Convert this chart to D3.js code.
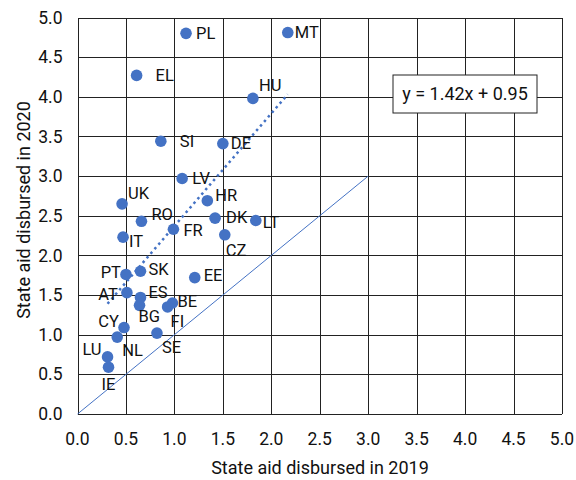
<!DOCTYPE html>
<head>
  <meta charset="utf-8">
  <script src="https://d3js.org/d3.v7.min.js"></script>
  <style>
    body { margin:0; background:#fff; }
    text { font-family: Roboto, sans-serif; fill: #111; }
    .grid-line { stroke: #222; stroke-width: 1; shape-rendering: crispEdges; }
    .tick-label { font-size: 17.5px; }
    .axis-title { font-size: 18px; }
    .pt-label { font-size: 16.5px; }
    .eq-text { font-size: 18px; }
  </style>
</head>
<body>
  <script>
    // member states, state aid disbursed (% of GDP)
    var countries = ["PL","MT","EL","HU","SI","DE","LV","UK","HR","RO","DK","LT","FR","IT","CZ",
                     "PT","SK","EE","AT","ES","BE","BG","FI","CY","NL","SE","LU","IE"];
    var aid2019 = [1.12,2.17,0.61,1.81,0.86,1.50,1.08,0.46,1.34,0.66,1.42,1.84,0.99,0.47,1.52,
                   0.50,0.65,1.21,0.51,0.65,0.98,0.64,0.93,0.48,0.41,0.82,0.31,0.32];
    var aid2020 = [4.80,4.81,4.27,3.98,3.44,3.41,2.97,2.65,2.69,2.43,2.47,2.44,2.33,2.23,2.26,
                   1.76,1.80,1.72,1.53,1.47,1.40,1.37,1.35,1.09,0.97,1.02,0.72,0.59];
    var ticks = [0,0.5,1,1.5,2,2.5,3,3.5,4,4.5,5];
    var slope = 1.42, intercept = 0.95;

    // label placement: [dx, dy, anchor]
    var labelPos = {
      PL:[10,0,"start"], MT:[7,0,"start"], EL:[19,0,"start"], HU:[6,-13,"start"],
      SI:[19,0,"start"], DE:[8,0,"start"], LV:[10,0,"start"], UK:[6,-11,"start"],
      HR:[8,-5,"start"], RO:[10,-7,"start"], DK:[11,-1,"start"], LT:[7,2,"start"],
      FR:[10,1,"start"], IT:[6,4,"start"], CZ:[1,15,"start"], PT:[-5,-2,"end"],
      SK:[8,-2,"start"], EE:[9,-2,"start"], AT:[-9,2,"end"], ES:[8,-5,"start"],
      BE:[5,-2,"start"], BG:[-1,11,"start"], FI:[3,14,"start"], CY:[-5,-6,"end"],
      NL:[5,13,"start"], SE:[5,14,"start"], LU:[-6,-8,"end"], IE:[0,17,"middle"]
    };

    var data = countries.map((c, i) => ({name: c, x: aid2019[i], y: aid2020[i]}));

    var W = 576, H = 480;
    var svg = d3.select("body").append("svg")
      .attr("width", W).attr("height", H);

    var x = d3.scaleLinear().domain([0, 5]).range([77.5, 562]);
    var y = d3.scaleLinear().domain([0, 5]).range([414, 17.5]);
    var blue = "#4472C4";

    // grid
    svg.append("g").selectAll("line")
      .data(ticks).enter().append("line")
        .attr("class", "grid-line")
        .attr("x1", d => Math.round(x(d)) + 0.5).attr("x2", d => Math.round(x(d)) + 0.5)
        .attr("y1", y(5)).attr("y2", y(0));
    svg.append("g").selectAll("line")
      .data(ticks).enter().append("line")
        .attr("class", "grid-line")
        .attr("y1", d => Math.round(y(d)) + 0.5).attr("y2", d => Math.round(y(d)) + 0.5)
        .attr("x1", x(0)).attr("x2", x(5));

    // tick labels
    svg.append("g").selectAll("text")
      .data(ticks).enter().append("text")
        .attr("class", "tick-label")
        .attr("x", d => x(d)).attr("y", y(0) + 25)
        .attr("dy", "0.35em")
        .attr("text-anchor", "middle")
        .text(d3.format(".1f"));
    svg.append("g").selectAll("text")
      .data(ticks).enter().append("text")
        .attr("class", "tick-label")
        .attr("x", x(0) - 15).attr("y", d => y(d))
        .attr("dy", "0.35em")
        .attr("text-anchor", "end")
        .text(d3.format(".1f"));

    // axis titles
    svg.append("text").attr("class", "axis-title")
      .attr("x", 320).attr("y", 468).attr("dy", "0.35em")
      .attr("text-anchor", "middle")
      .text("State aid disbursed in 2019");
    svg.append("text").attr("class", "axis-title")
      .attr("transform", "translate(24,210) rotate(-90)")
      .attr("dy", "0.35em")
      .attr("text-anchor", "middle")
      .text("State aid disbursed in 2020");

    // 45 degree reference line
    svg.append("line")
      .attr("x1", x(0)).attr("y1", y(0))
      .attr("x2", x(3)).attr("y2", y(3))
      .style("stroke", blue).style("stroke-width", 1);

    // linear trend
    var xr = d3.extent(aid2019);
    svg.append("line")
      .attr("x1", x(xr[0])).attr("y1", y(slope * xr[0] + intercept))
      .attr("x2", x(xr[1])).attr("y2", y(slope * xr[1] + intercept))
      .style("stroke", blue).style("stroke-width", 2.5)
      .style("stroke-dasharray", "2.5,3.5");

    // points
    svg.append("g").selectAll("circle")
      .data(data).enter().append("circle")
        .attr("cx", d => x(d.x)).attr("cy", d => y(d.y))
        .attr("r", 5.8)
        .style("fill", blue);

    // labels
    svg.append("g").selectAll("text")
      .data(data).enter().append("text")
        .attr("class", "pt-label")
        .attr("x", d => x(d.x) + labelPos[d.name][0])
        .attr("y", d => y(d.y) + labelPos[d.name][1])
        .attr("dy", "0.35em")
        .attr("text-anchor", d => labelPos[d.name][2])
        .text(d => d.name);

    // equation box
    var eq = svg.append("g");
    eq.append("rect")
      .attr("x", 393).attr("y", 75).attr("width", 144).attr("height", 38)
      .style("fill", "#fff").style("stroke", "#222").style("stroke-width", 1);
    eq.append("text").attr("class", "eq-text")
      .attr("x", 465).attr("y", 94).attr("dy", "0.35em")
      .attr("text-anchor", "middle")
      .text("y = 1.42x + 0.95");
  </script>
</body>
